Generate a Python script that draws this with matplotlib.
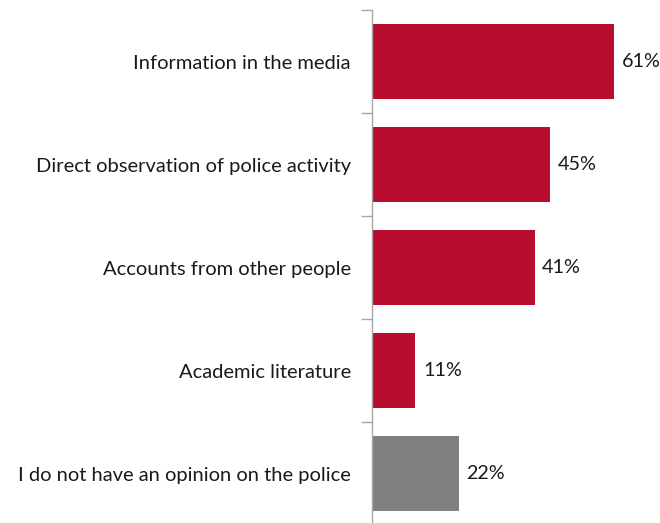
import matplotlib
matplotlib.use("Agg")
import matplotlib.pyplot as plt
import numpy as np

categories = [
    "Information in the media",
    "Direct observation of police activity",
    "Accounts from other people",
    "Academic literature",
    "I do not have an opinion on the police",
]
values = [61, 45, 41, 11, 22]
colors = ["#B70D2E", "#B70D2E", "#B70D2E", "#B70D2E", "#808080"]

plt.rcParams["font.family"] = ["Lato", "DejaVu Sans"]

W, H = 660, 523
fig = plt.figure(figsize=(W / 100, H / 100), dpi=100)
ax_left = 371.7 / W
ax_top = 10 / H
ax_h = 515 / H
ax = fig.add_axes([ax_left, 1 - ax_top - ax_h, 1 - ax_left, ax_h])

y = np.arange(len(categories))
ax.barh(y, values, height=0.72, color=colors)
ax.set_xlim(0, 72.6)
ax.set_ylim(len(categories) - 0.5, -0.5)

for yi, v in zip(y, values):
    ax.text(v + 1.9, yi, f"{v}%", va="center", ha="left", fontsize=14.2, color="#1a1a1a")

ax.set_yticks(y)
ax.set_yticklabels(categories, fontsize=14.5, color="#1a1a1a")
ax.tick_params(axis="y", which="major", length=0, pad=15)
ax.set_yticks(np.arange(-0.5, len(categories)), minor=True)
ax.tick_params(axis="y", which="minor", length=8, width=1, color="#A6A6A6", direction="out")
ax.set_xticks([])
for s in ["top", "right", "bottom"]:
    ax.spines[s].set_visible(False)
ax.spines["left"].set_color("#A6A6A6")
ax.spines["left"].set_linewidth(1)

fig.savefig("out.png", dpi=100)
